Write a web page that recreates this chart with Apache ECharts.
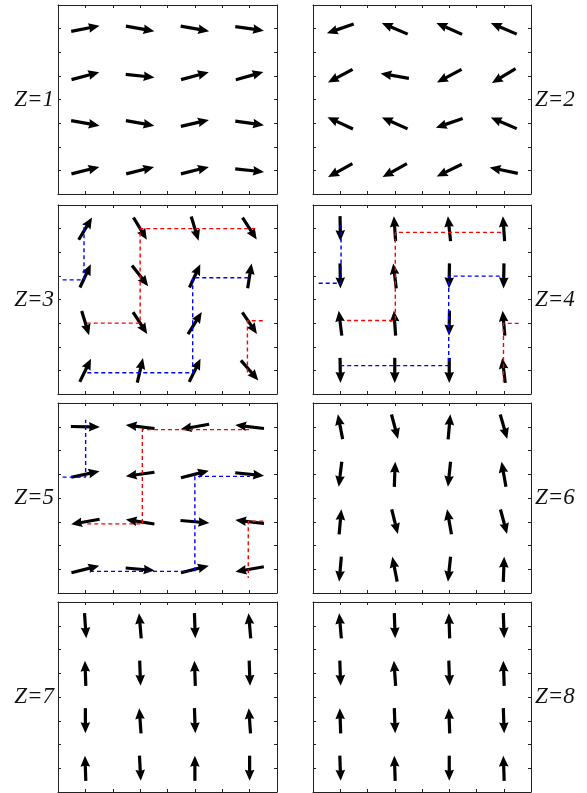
<!DOCTYPE html>
<html><head><meta charset="utf-8">
<script src="https://cdn.jsdelivr.net/npm/echarts@6/dist/echarts.min.js"></script>
<style>html,body{margin:0;padding:0;background:#fff}#c{width:587px;height:793px}</style>
</head><body><div id="c"></div>
<script>
// grid positions of spins
const colsX = [1, 3, 5, 7];
const rowsY = [7, 5, 3, 1];
const panelLabels = ['Z=1','Z=2','Z=3','Z=4','Z=5','Z=6','Z=7','Z=8'];
// spin angles (degrees, ccw from +x), rows top->bottom, cols left->right
const anglesZ1 = [11,-10,-10,-8, 15,-6,15,16, -10,-10,13,-8, 14,14,14,-6];
const anglesZ2 = [199,157,156,157, 208,170,208,211, 155,156,199,157, 209,209,206,168];
const anglesZ3 = [59,-59,-73,-57, 65,-52,65,81, -73,-57,58,-56, 64,77,64,-49];
const anglesZ4 = [-89,94,96,94, -89,97,-91,-91, 97,94,-91,95, -89,-90,-90,97];
const anglesZ5 = [-1,173,190,173, 12,188,14,-6, 190,171,-5,173, 14,-5,14,190];
const anglesZ6 = [101,-75,85,-74, 263,88,264,100, 85,-76,100,-75, 265,101,264,88];
const anglesZ7 = [-86,95,-88,95, 92,-88,92,-88, -90,94,-88,94, 92,-87,90,-90];
const anglesZ8 = [95,-88,92,-88, -88,94,-88,92, 92,-88,92,-88, -88,92,-90,92];
const allAngles = [anglesZ1,anglesZ2,anglesZ3,anglesZ4,anglesZ5,anglesZ6,anglesZ7,anglesZ8];
// dashed domain paths
const pathsZ3Red = [[[1.05,3],[3,3],[3,7],[7.26,7]], [[7.48,3.1],[6.92,3.1],[6.92,0.8]]];
const pathsZ3Blue = [[[0.17,4.83],[0.95,4.83],[0.95,7.22]], [[1.07,0.9],[4.92,0.9],[4.92,4.92],[7,4.92]]];
const pathsZ4Red = [[[1.25,3.11],[3.02,3.11],[3.02,6.84],[6.99,6.84]], [[7.55,2.99],[6.99,2.99],[6.99,0.52]]];
const pathsZ4Blue = [[[0.21,4.69],[1.03,4.69],[1.03,7.22]], [[1.0,1.2],[4.98,1.2],[4.98,4.99],[6.99,4.99]]];
const pathsZ5Red = [[[1.07,2.91],[3.08,2.91],[3.08,6.88],[7.0,6.88]], [[7.5,3.02],[6.95,3.02],[6.95,0.63]]];
const pathsZ5Blue = [[[0.17,4.88],[1.01,4.88],[1.01,7.3]], [[1.17,0.91],[5.0,0.91],[5.0,4.91],[7.01,4.91]]];
const redPaths = {2: pathsZ3Red, 3: pathsZ4Red, 4: pathsZ5Red};
const bluePaths = {2: pathsZ3Blue, 3: pathsZ4Blue, 4: pathsZ5Blue};

const gridLeft = [58, 313];
const gridWidth = [219, 218];
const gridTop = [5, 205, 403, 602];
const gridHeight = [189, 189, 190, 190];

const grids = [], xAxes = [], yAxes = [], series = [], graphics = [];
const axisCommon = {
  min: 0, max: 8, interval: 1, type: 'value',
  axisLine: {show: true, onZero: false, lineStyle: {color: '#222', width: 1}},
  axisTick: {show: true, inside: true, length: 3, lineStyle: {color: '#222'}},
  axisLabel: {show: false}, splitLine: {show: false}
};
for (let p = 0; p < 8; p++) {
  const col = p % 2, row = Math.floor(p / 2);
  grids.push({left: gridLeft[col], top: gridTop[row], width: gridWidth[col], height: gridHeight[row]});
  xAxes.push(Object.assign({}, axisCommon, {gridIndex: p, position: 'bottom'}));
  xAxes.push(Object.assign({}, axisCommon, {gridIndex: p, position: 'top'}));
  yAxes.push(Object.assign({}, axisCommon, {gridIndex: p, position: 'left'}));
  yAxes.push(Object.assign({}, axisCommon, {gridIndex: p, position: 'right'}));
  const xi = p * 2, yi = p * 2;
  const data = [];
  allAngles[p].forEach((a, i) => {
    data.push([colsX[i % 4], rowsY[Math.floor(i / 4)], a]);
  });
  series.push({
    type: 'custom', xAxisIndex: xi, yAxisIndex: yi, data: data, z: 2, clip: false,
    renderItem: function (params, api) {
      const c = api.coord([api.value(0), api.value(1)]);
      const s = api.size([1, 1]);
      const th = api.value(2) * Math.PI / 180;
      const cx = Math.cos(th), cy = -Math.sin(th);
      const L = 0.53 / Math.sqrt(Math.pow(Math.cos(th) / s[0], 2) + Math.pow(Math.sin(th) / s[1], 2));
      const tail = [c[0] - cx * L, c[1] - cy * L];
      const tip = [c[0] + cx * L, c[1] + cy * L];
      const hl = 11, hw = 4.8, back = 1.2;
      const base = [tip[0] - cx * hl, tip[1] - cy * hl];
      const notch = [base[0] + cx * back, base[1] + cy * back];
      const nx = -cy, ny = cx;
      return {
        type: 'group',
        children: [
          {type: 'line', shape: {x1: tail[0], y1: tail[1], x2: notch[0] + cx, y2: notch[1] + cy},
           style: {stroke: '#000', lineWidth: 3.2, lineCap: 'butt'}},
          {type: 'polygon', shape: {points: [tip, [base[0] + nx * hw, base[1] + ny * hw], notch, [base[0] - nx * hw, base[1] - ny * hw]]},
           style: {fill: '#000'}}
        ]
      };
    }
  });
  [[redPaths[p], '#ff0000'], [bluePaths[p], '#0000ff']].forEach(([paths, color]) => {
    if (!paths) return;
    paths.forEach(path => {
      series.push({
        type: 'line', xAxisIndex: xi, yAxisIndex: yi, data: path, symbol: 'none', z: 3,
        silent: true, animation: false, clip: false,
        lineStyle: {color: color, width: 1.4, type: [4, 3]}
      });
    });
  });
  const cyPix = gridTop[row] + gridHeight[row] / 2;
  const txtStyle = {text: panelLabels[p], fontStyle: 'italic', fontSize: 23,
    fontFamily: 'Liberation Serif', fill: '#111', verticalAlign: 'middle'};
  if (col === 0) {
    graphics.push({type: 'text', x: 54, y: cyPix,
      style: Object.assign({}, txtStyle, {align: 'right'})});
  } else {
    graphics.push({type: 'text', x: 535, y: cyPix,
      style: Object.assign({}, txtStyle, {align: 'left'})});
  }
}
const chart = echarts.init(document.getElementById('c'), null, {renderer: 'canvas'});
chart.setOption({
  animation: false, backgroundColor: '#fff',
  grid: grids, xAxis: xAxes, yAxis: yAxes, series: series, graphic: graphics
});
</script></body></html>
